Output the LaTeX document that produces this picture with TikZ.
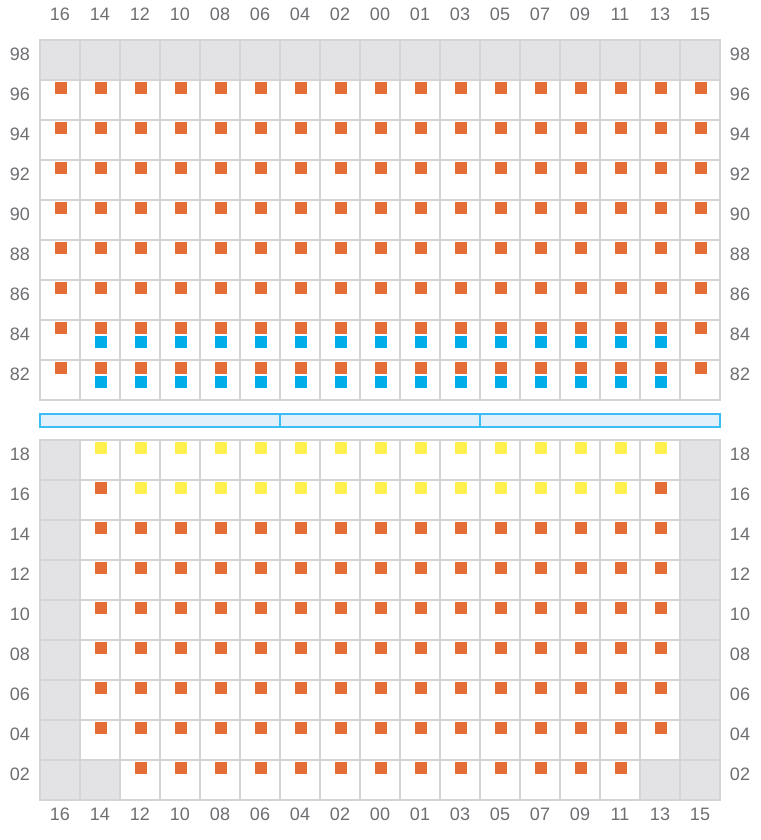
\documentclass[tikz,border=0pt]{standalone}
\usepackage{fontspec}
\setmainfont{Liberation Sans}
\usetikzlibrary{positioning}
\definecolor{gridline}{HTML}{D4D4D8}
\definecolor{cellgrey}{HTML}{E3E3E6}
\definecolor{seatorange}{HTML}{E36C37}
\definecolor{seatblue}{HTML}{00ADE8}
\definecolor{seatyellow}{HTML}{FFF04D}
\definecolor{labelgrey}{HTML}{6E6E73}
\definecolor{barblue}{HTML}{3BBDF5}
\definecolor{barfill}{HTML}{E1F0FB}

\begin{document}
\begin{tikzpicture}[x=1pt, y=-1pt,
    cell/.style={draw=gridline, line width=2pt, fill=white},
    greycell/.style={cell, fill=cellgrey},
    lab/.style={inner sep=0pt, text=labelgrey, font=\fontsize{18}{18}\selectfont},
    orange/.style={fill=seatorange},
    blue/.style={fill=seatblue},
    yellow/.style={fill=seatyellow}
]
    \useasboundingbox (0,0) rectangle (760,840);
    \fill[white] (0,0) rectangle (760,840);

    % column labels
    \foreach \c [count=\i] in {16,14,12,10,08,06,04,02,00,01,03,05,07,09,11,13,15} {
        \node[lab] (ctop\i) at (40*\i+20,14) {\c};
        \node[lab] (cbot\i) at (40*\i+20,814) {\c};
    }

    % upper block
    \foreach \r [count=\j] in {98,96,94,92,90,88,86,84,82} {
        \node[lab] (ul\j) at (20,40*\j+14) {\r};
        \node[lab] (ur\j) at (740,40*\j+14) {\r};
        \foreach \i in {1,...,17} {
            \ifnum\j=1
                \draw[greycell] (40*\i,40*\j) rectangle ++(40,40);
            \else
                \draw[cell] (40*\i,40*\j) rectangle ++(40,40);
                \fill[orange] (40*\i+15,40*\j+2) rectangle ++(12,12);
                \ifnum\j>7 \ifnum\i>1 \ifnum\i<17
                    \fill[blue] (40*\i+15,40*\j+16) rectangle ++(12,12);
                \fi\fi\fi
            \fi
        }
    }

    % bar
    \draw[barblue, line width=2pt, fill=barfill] (40,413.5) rectangle (720,426.5);
    \draw[barblue, line width=2pt] (280,413.5) -- (280,426.5);
    \draw[barblue, line width=2pt] (480,413.5) -- (480,426.5);

    % lower block
    \foreach \r [count=\j] in {18,16,14,12,10,08,06,04,02} {
        \node[lab] (ll\j) at (20,400+40*\j+14) {\r};
        \node[lab] (lr\j) at (740,400+40*\j+14) {\r};
        \foreach \i in {1,...,17} {
            \pgfmathtruncatemacro{\edge}{(\i==1 || \i==17 || (\j==9 && (\i==2 || \i==16))) ? 1 : 0}
            \ifnum\edge=1
                \draw[greycell] (40*\i,400+40*\j) rectangle ++(40,40);
            \else
                \draw[cell] (40*\i,400+40*\j) rectangle ++(40,40);
                \pgfmathtruncatemacro{\yel}{(\j==1 || (\j==2 && \i>2 && \i<16)) ? 1 : 0}
                \ifnum\yel=1
                    \fill[yellow] (40*\i+15,400+40*\j+2) rectangle ++(12,12);
                \else
                    \fill[orange] (40*\i+15,400+40*\j+2) rectangle ++(12,12);
                \fi
            \fi
        }
    }
\end{tikzpicture}
\end{document}
